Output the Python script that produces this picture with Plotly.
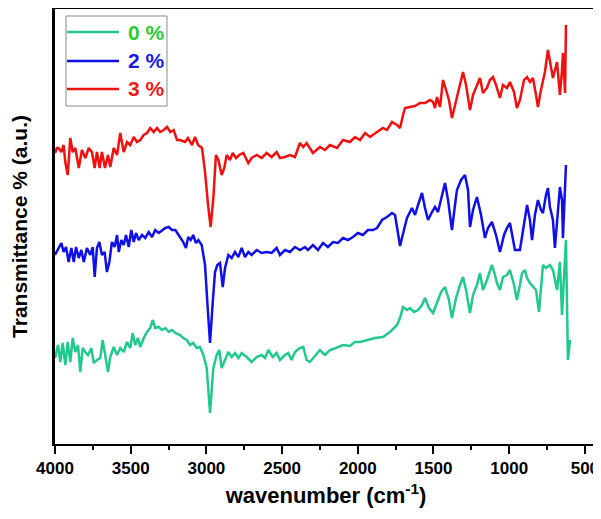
import plotly.graph_objects as go

# ---------------- data ----------------
labels = ["0 %", "2 %", "3 %"]
line_colors = ["#22c98e", "#1010e6", "#f01010"]
text_colors = ["#2ecc2e", "#1a1ae6", "#f01a1a"]

wn_0 = [4000, 3980, 3965, 3949, 3932, 3916, 3899, 3883, 3866, 3848, 3833, 3817, 3800, 3782, 3760, 3744,
        3723, 3701, 3685, 3668, 3650, 3635, 3612, 3590, 3569, 3546, 3524, 3503, 3487, 3470, 3452, 3437,
        3414, 3392, 3371, 3355, 3338, 3315, 3293, 3271, 3249, 3227, 3205, 3174, 3153, 3130, 3108, 3087,
        3064, 3042, 3020, 2998, 2976, 2954, 2932, 2915, 2899, 2877, 2855, 2833, 2811, 2789, 2767, 2734,
        2701, 2668, 2635, 2613, 2591, 2562, 2536, 2514, 2481, 2459, 2437, 2415, 2382, 2360, 2338, 2316,
        2296, 2250, 2217, 2184, 2144, 2098, 2052, 2019, 1985, 1933, 1886, 1834, 1787, 1741, 1721, 1701,
        1675, 1655, 1629, 1602, 1576, 1556, 1530, 1503, 1477, 1450, 1424, 1398, 1378, 1351, 1325, 1305,
        1285, 1259, 1239, 1213, 1193, 1173, 1147, 1127, 1114, 1094, 1081, 1061, 1041, 1015, 995, 968,
        949, 929, 915, 896, 882, 863, 843, 823, 803, 790, 777, 757, 731, 711, 684, 665, 651, 625, 612, 598]
t_0 = [86, 99, 82, 101, 79, 102, 82, 106, 92, 99, 72, 96, 92, 89, 96, 81,
       84, 86, 104, 86, 72, 87, 97, 89, 96, 92, 102, 96, 111, 99, 106, 97,
       106, 112, 116, 124, 116, 117, 114, 116, 112, 114, 111, 109, 106, 104, 99, 101,
       96, 97, 89, 76, 31, 76, 89, 94, 76, 84, 92, 87, 91, 86, 91, 87,
       82, 87, 89, 86, 94, 87, 91, 84, 89, 91, 84, 92, 96, 97, 84, 82,
       86, 94, 89, 94, 96, 99, 98, 102, 102, 104, 106, 107, 112, 119, 126, 137,
       134, 136, 132, 134, 139, 146, 136, 131, 141, 152, 157, 144, 126, 146, 159, 167,
       154, 131, 149, 159, 171, 154, 164, 174, 179, 169, 161, 154, 167, 169, 174, 159,
       144, 159, 171, 174, 166, 161, 157, 154, 132, 159, 179, 176, 179, 174, 154, 182, 129, 204, 84, 104]

wn_2 = [4000, 3976, 3958, 3943, 3927, 3910, 3892, 3876, 3861, 3843, 3826, 3810, 3789, 3767, 3751, 3738,
        3723, 3707, 3690, 3672, 3657, 3641, 3624, 3606, 3590, 3579, 3562, 3546, 3531, 3513, 3496, 3480,
        3465, 3447, 3425, 3404, 3381, 3359, 3338, 3315, 3293, 3271, 3249, 3227, 3205, 3183, 3174, 3153,
        3135, 3120, 3104, 3087, 3069, 3053, 3031, 3009, 2994, 2976, 2958, 2943, 2928, 2910, 2892, 2877,
        2855, 2833, 2811, 2789, 2767, 2745, 2723, 2701, 2668, 2635, 2602, 2569, 2536, 2514, 2481, 2448,
        2415, 2382, 2349, 2329, 2296, 2263, 2230, 2197, 2164, 2131, 2098, 2065, 2032, 1999, 1966, 1933,
        1900, 1873, 1840, 1807, 1774, 1754, 1741, 1721, 1695, 1675, 1642, 1622, 1602, 1576, 1556, 1536,
        1510, 1490, 1470, 1444, 1424, 1404, 1378, 1358, 1345, 1318, 1292, 1272, 1259, 1239, 1213, 1186,
        1160, 1140, 1114, 1087, 1061, 1034, 1015, 995, 975, 962, 929, 902, 882, 863, 849, 830,
        810, 790, 777, 757, 744, 731, 711, 698, 678, 665, 651, 645, 625]
t_2 = [189, 196, 201, 192, 197, 182, 196, 182, 197, 186, 194, 182, 196, 189, 197, 167,
       196, 202, 189, 192, 172, 182, 202, 197, 209, 192, 204, 199, 209, 197, 214, 202,
       211, 204, 209, 206, 212, 207, 214, 211, 214, 216, 217, 214, 214, 209, 206, 202,
       196, 207, 204, 209, 201, 204, 199, 179, 142, 101, 142, 172, 179, 181, 157, 176,
       189, 186, 192, 187, 196, 187, 192, 189, 194, 191, 192, 191, 196, 189, 194, 192,
       197, 194, 197, 194, 199, 194, 201, 197, 202, 201, 206, 204, 207, 211, 209, 214,
       214, 216, 224, 227, 231, 229, 217, 198, 214, 226, 236, 229, 239, 251, 236, 224,
       232, 237, 232, 249, 261, 244, 214, 239, 254, 264, 269, 254, 217, 234, 247, 229,
       206, 216, 222, 209, 192, 209, 216, 221, 204, 194, 194, 219, 239, 224, 204, 229,
       244, 234, 231, 249, 256, 237, 224, 196, 234, 257, 244, 206, 279]

wn_3 = [4000, 3987, 3976, 3958, 3943, 3932, 3916, 3899, 3883, 3866, 3843, 3822, 3800, 3777, 3756, 3738,
        3723, 3705, 3690, 3670, 3650, 3635, 3612, 3590, 3569, 3546, 3524, 3503, 3480, 3458, 3437, 3414,
        3392, 3371, 3348, 3326, 3305, 3282, 3260, 3238, 3216, 3194, 3174, 3141, 3122, 3095, 3075, 3055,
        3029, 3009, 2989, 2972, 2954, 2937, 2921, 2899, 2882, 2866, 2844, 2826, 2804, 2783, 2756, 2723,
        2701, 2668, 2635, 2602, 2569, 2536, 2514, 2481, 2448, 2415, 2382, 2360, 2338, 2316, 2296, 2250,
        2217, 2184, 2137, 2098, 2052, 2019, 1985, 1952, 1919, 1873, 1834, 1807, 1774, 1741, 1721, 1701,
        1688, 1655, 1622, 1589, 1556, 1523, 1503, 1490, 1477, 1457, 1437, 1417, 1398, 1378, 1351, 1325,
        1305, 1285, 1259, 1239, 1213, 1193, 1173, 1147, 1127, 1107, 1087, 1061, 1041, 1015, 995, 968,
        949, 929, 902, 882, 863, 843, 823, 810, 790, 764, 744, 724, 711, 684, 671, 665, 651, 645, 631, 625]
t_3 = [291, 296, 296, 292, 299, 282, 269, 306, 292, 296, 276, 294, 286, 296, 292, 276,
       292, 276, 292, 276, 289, 277, 296, 289, 311, 292, 302, 299, 307, 302, 304, 309,
       311, 316, 312, 316, 312, 314, 317, 312, 314, 304, 304, 302, 306, 299, 307, 299,
       296, 272, 239, 217, 246, 289, 284, 269, 276, 289, 284, 291, 286, 289, 291, 281,
       286, 289, 286, 291, 287, 292, 286, 287, 289, 287, 301, 297, 301, 296, 291, 297,
       294, 299, 296, 304, 302, 307, 304, 311, 307, 312, 316, 314, 322, 319, 316, 329,
       336, 337, 338, 341, 341, 344, 342, 336, 347, 337, 364, 354, 344, 326, 344, 362,
       372, 359, 334, 349, 359, 366, 351, 356, 364, 367, 359, 346, 359, 356, 362, 352,
       336, 344, 364, 367, 362, 366, 349, 337, 354, 372, 394, 379, 366, 382, 359, 349, 374, 391, 351, 419]

x_ticks = [4000, 3500, 3000, 2500, 2000, 1500, 1000, 500]
x_range = [4000, 420]
y_range = [0, 435]

series = [(wn_0, t_0), (wn_2, t_2), (wn_3, t_3)]

# ---------------- figure ----------------
fig = go.Figure()
for (wn, t), name, col in zip(series, labels, line_colors):
    fig.add_trace(go.Scatter(x=wn, y=t, mode="lines", name=name,
                             line=dict(color=col, width=2.5), showlegend=False))

FONT = "Arial, Liberation Sans, sans-serif"

# the page body adds an 8px offset, so the figure is sized to fit the 601x519 window
fig.update_layout(
    width=593, height=511,
    margin=dict(l=47, r=4, t=1, b=75, autoexpand=False),
    showlegend=False,
    paper_bgcolor="white", plot_bgcolor="white",
    font=dict(family=FONT, color="black"),
    xaxis=dict(
        automargin=False,
        range=x_range, tickvals=x_ticks, ticktext=[str(v) for v in x_ticks],
        ticks="outside", ticklen=8, tickwidth=2, tickcolor="black",
        minor=dict(dtick=250, tick0=0, ticks="outside", ticklen=4, tickwidth=2, tickcolor="black"),
        showline=True, linewidth=2, linecolor="black", mirror=True,
        showgrid=False, zeroline=False,
        tickfont=dict(family=FONT, size=17, weight="bold", color="black"),
        title=dict(text="wavenumber (cm<sup>-1</sup>)", standoff=10,
                   font=dict(family=FONT, size=22, weight="bold", color="black")),
    ),
    yaxis=dict(
        automargin=False,
        range=y_range, showticklabels=False, ticks="",
        showline=True, linewidth=3, linecolor="black", mirror=True,
        showgrid=False, zeroline=False,
        title=dict(text="Transmittance % (a.u.)", standoff=24,
                   font=dict(family=FONT, size=21, weight="bold", color="black")),
    ),
)

# custom legend matching the original (box, long line samples, coloured labels)
fig.add_shape(type="rect", xref="paper", yref="paper", x0=0.0203, x1=0.2066, y0=0.777, y1=0.9839,
              line=dict(color="#888888", width=1), fillcolor="white", layer="above")
leg_y = [0.947, 0.8805, 0.8161]
for ly, name, lc, tc in zip(leg_y, labels, line_colors, text_colors):
    fig.add_shape(type="line", xref="paper", yref="paper", x0=0.0221, x1=0.1181, y0=ly, y1=ly,
                  line=dict(color=lc, width=2.5), layer="above")
    fig.add_annotation(xref="paper", yref="paper", x=0.1310, y=ly, text=name, showarrow=False,
                       xanchor="left", yanchor="middle",
                       font=dict(family=FONT, size=21, weight="bold", color=tc))

fig.write_html("out.html")
